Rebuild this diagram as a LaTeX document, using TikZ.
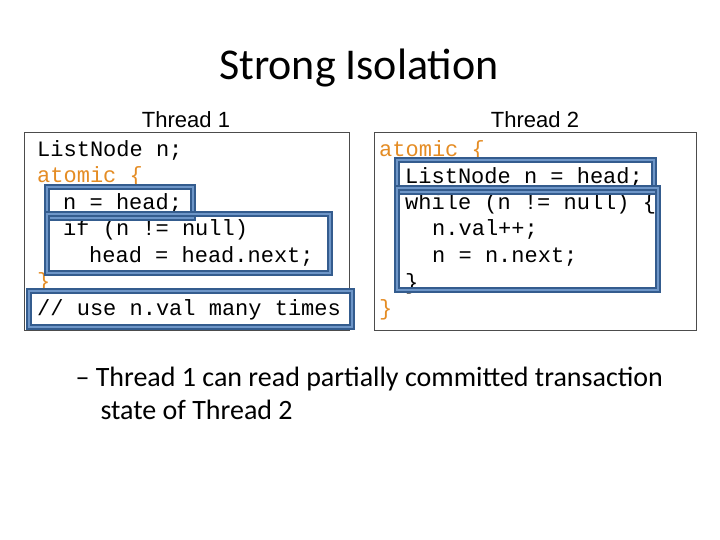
\documentclass[tikz,border=0pt]{standalone}
\usepackage{fontspec}
\setmainfont{Carlito}
\newfontfamily\codefont{Liberation Mono}
\newfontfamily\labelfont{Liberation Sans}
\usetikzlibrary{positioning}
\definecolor{kwcolor}{RGB}{228,140,36}
\definecolor{boxblue}{RGB}{52,92,142}
\definecolor{boxlight}{RGB}{110,150,200}
\tikzset{
  code/.style={anchor=base west, inner sep=0pt, font=\codefont\fontsize{22}{22}\selectfont},
  kw/.style={code, text=kwcolor},
  thread/.style={font=\labelfont\fontsize{22}{22}\selectfont},
  panel/.style={draw=black!70, line width=0.8pt},
  hilite/.style={draw=boxblue, line width=6pt},
  hiliteinner/.style={draw=boxlight, line width=1.5pt}
}
\begin{document}
\begin{tikzpicture}[x=1pt,y=-1pt]
\useasboundingbox (0,0) rectangle (720,540);
\node[font=\fontsize{44}{44}\selectfont] (title) at (359,68) {Strong Isolation};
% panels
\draw[panel] (24,132) rectangle (349,330);
\draw[panel] (374,132) rectangle (696,330);
\node[thread] (t1) at (186,120) {Thread 1};
\node[thread] (t2) at (535,120) {Thread 2};
% thread 1 code
\node[code] (l1) at (37,157) {ListNode n;};
\node[kw] (l2) at (37,183) {atomic \{};
\node[code] (l3) at (63,210) {n = head;};
\node[code] (l4) at (63,236) {if (n != null)};
\node[code] (l5) at (89,262) {head = head.next;};
\node[kw] (l6) at (37,288) {\}};
\node[code] (l7) at (37,315) {// use n.val many times};
% thread 2 code
\node[kw] (r1) at (379,157) {atomic \{};
\node[code] (r2) at (405,184) {ListNode n = head;};
\node[code] (r3) at (405,210) {while (n != null) \{};
\node[code] (r4) at (432,236) {n.val++;};
\node[code] (r5) at (432,262) {n = n.next;};
\node[code] (r6) at (405,289) {\}};
\node[kw] (r7) at (379,315) {\}};
% highlight boxes
\foreach \a/\b in {{47,187}/{193,218}, {47,214}/{330,273}, {29,291}/{352,327},
                   {397,160}/{654,192}, {397,188}/{658,290}} {
  \draw[hilite] (\a) rectangle (\b);
  \draw[hiliteinner] (\a) rectangle (\b);
}
% bullet
\node[anchor=base west, align=left, font=\fontsize{28}{33}\selectfont] (note) at (72,419)
  {\textendash\ Thread 1 can read partially committed transaction\\\hspace{25pt}state of Thread 2};
\end{tikzpicture}
\end{document}
